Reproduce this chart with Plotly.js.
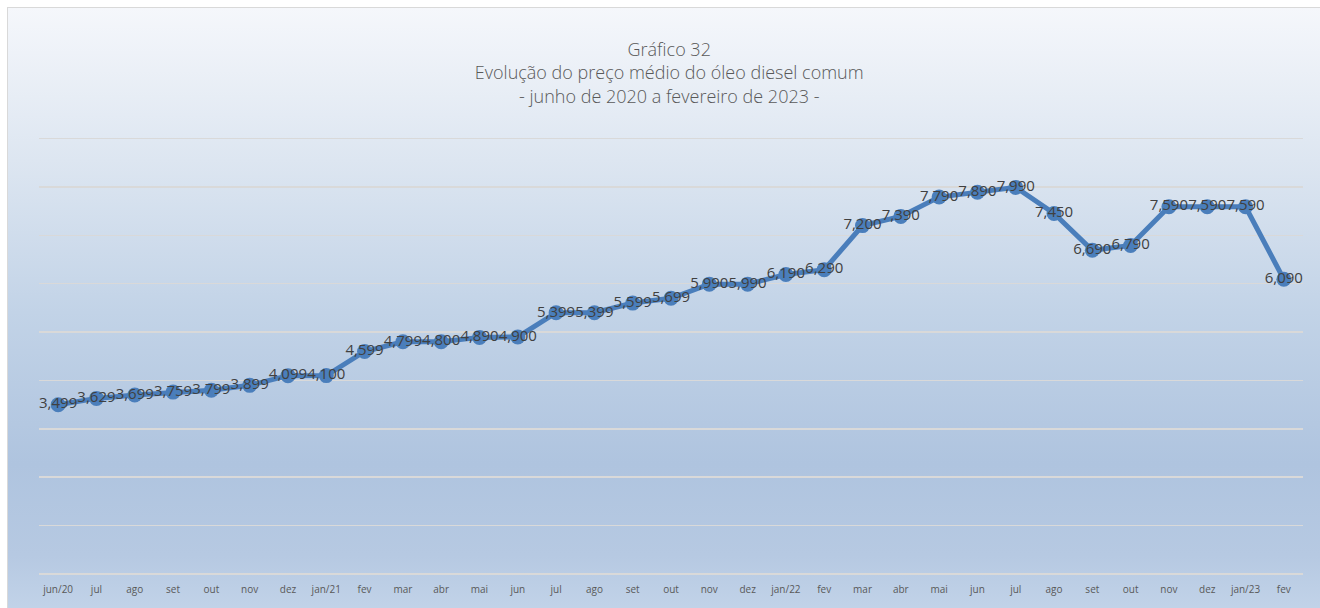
<!DOCTYPE html>
<html>
<head>
<meta charset="utf-8">
<script src="https://cdn.plot.ly/plotly-3.0.1.min.js"></script>
<style>
  html, body { margin: 0; padding: 0; width: 1320px; height: 608px; overflow: hidden; background: #ffffff; }
  #bg { position: absolute; left: 7px; top: 7px; width: 1320px; height: 610px;
        border: 1px solid #d9d9d9; box-sizing: border-box;
        background: linear-gradient(to bottom, #f5f7fb 0%, #dde6f1 25%, #c2d3e7 50%, #afc4df 75%, #b6c9e2 90%, #c3d4e9 100%); }
  #chart { position: absolute; left: 0; top: 0; width: 1320px; height: 608px; }
</style>
</head>
<body>
<div id="bg"></div>
<div id="chart"></div>
<script>
const categories = ["jun/20","jul","ago","set","out","nov","dez","jan/21","fev","mar","abr","mai","jun","jul","ago","set","out","nov","dez","jan/22","fev","mar","abr","mai","jun","jul","ago","set","out","nov","dez","jan/23","fev"];
const precos = [3.499,3.629,3.699,3.759,3.799,3.899,4.099,4.100,4.599,4.799,4.800,4.890,4.900,5.399,5.399,5.599,5.699,5.990,5.990,6.190,6.290,7.200,7.390,7.790,7.890,7.990,7.450,6.690,6.790,7.590,7.590,7.590,6.090];
const titleLines = ["Gráfico 32", "Evolução do preço médio do óleo diesel comum", "- junho de 2020 a fevereiro de 2023 -"];

const idx = categories.map((c, i) => i);

const trace = {
  type: "scatter",
  mode: "lines+markers+text",
  x: idx,
  y: precos,
  line: { color: "#4a7ebb", width: 5 },
  marker: { color: "#4a7ebb", size: 15 },
  texttemplate: "%{y:.3f}",
  textposition: "middle center",
  textfont: { family: "Open Sans, Noto Sans, sans-serif", size: 15, color: "#404040" },
  hoverinfo: "skip",
  cliponaxis: false
};

const layout = {
  width: 1320,
  height: 608,
  separators: ",.",
  paper_bgcolor: "rgba(0,0,0,0)",
  plot_bgcolor: "rgba(0,0,0,0)",
  margin: { l: 39, r: 17, t: 124, b: 34 },
  showlegend: false,
  title: {
    text: titleLines.join("<br>"),
    x: 0.507, xanchor: "center",
    y: 0.908, yanchor: "top",
    font: { family: "Open Sans, Noto Sans, sans-serif", size: 18, weight: 300, color: "#595959" }
  },
  xaxis: {
    type: "linear",
    range: [-0.5, categories.length - 0.5],
    tickvals: idx,
    ticktext: categories,
    showgrid: false,
    zeroline: false,
    showline: false,
    ticks: "outside",
    ticklen: 6,
    tickcolor: "rgba(0,0,0,0)",
    tickfont: { family: "Open Sans, Noto Sans, sans-serif", size: 10, color: "#595959" },
    fixedrange: true
  },
  yaxis: {
    range: [0, 9.3],
    tickvals: [0, 1, 2, 3, 4, 5, 6, 7, 8, 9],
    showgrid: true,
    gridcolor: "#d9d9d9",
    gridwidth: 1.5,
    zeroline: true,
    zerolinecolor: "#d9d9d9",
    zerolinewidth: 1.5,
    showticklabels: false,
    ticks: "",
    fixedrange: true
  }
};

Plotly.newPlot("chart", [trace], layout, { displayModeBar: false, staticPlot: true });
</script>
</body>
</html>
